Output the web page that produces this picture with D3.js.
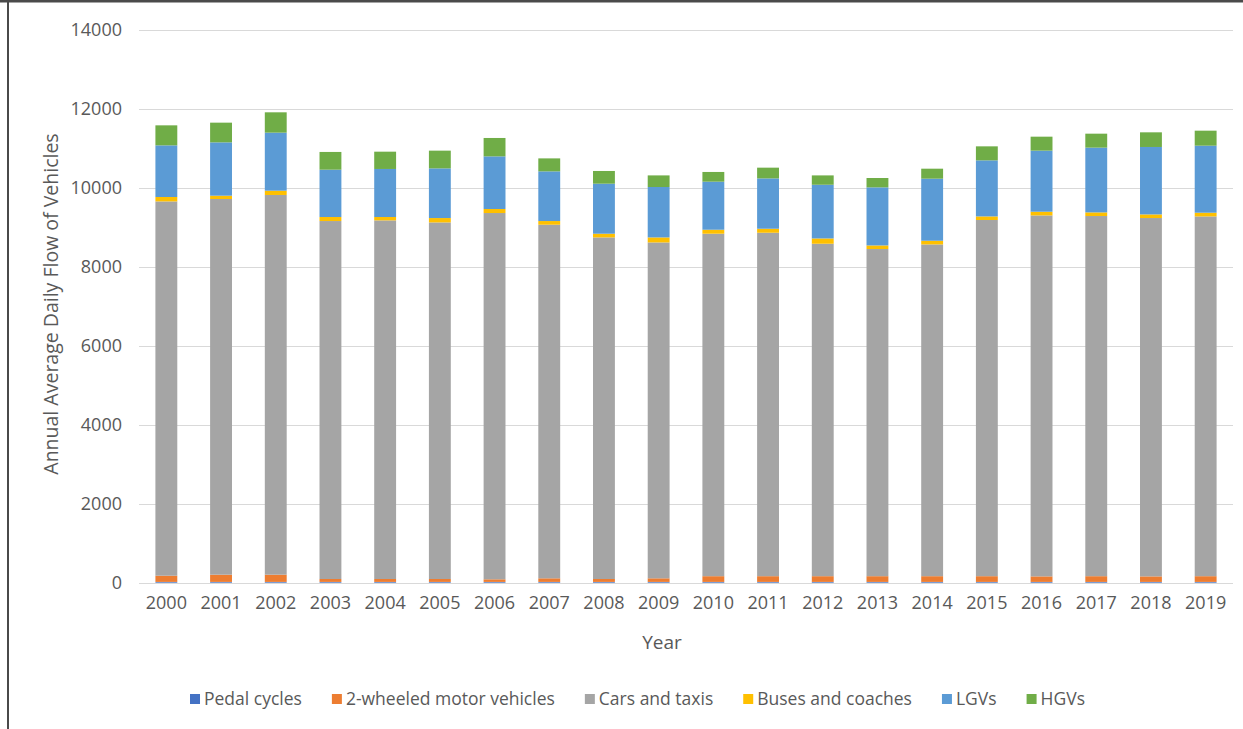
<!DOCTYPE html>
<html>
<head>
<meta charset="utf-8">
<script src="https://cdn.jsdelivr.net/npm/d3@7"></script>
<style>
  html, body { margin: 0; padding: 0; background: #fff; }
  svg { display: block; }
  text { font-family: "Open Sans", "Liberation Sans", sans-serif; fill: #595959; }
</style>
</head>
<body>
<svg id="chart" width="1243" height="729"></svg>
<script>
// Annual average daily flow by vehicle type, 2000-2019
const years = ["2000","2001","2002","2003","2004","2005","2006","2007","2008","2009",
               "2010","2011","2012","2013","2014","2015","2016","2017","2018","2019"];
const seriesNames = ["Pedal cycles","2-wheeled motor vehicles","Cars and taxis","Buses and coaches","LGVs","HGVs"];
const seriesColors = ["#4472C4","#ED7D31","#A5A5A5","#FFC000","#5B9BD5","#70AD47"];

const pedalCycles   = [20,20,20,20,20,20,20,20,20,20,20,20,20,20,20,20,20,20,20,20];
const twoWheeled    = [157,183,183,74,74,74,66,91,74,91,145,145,145,145,145,145,140,145,140,145];
const carsTaxis     = [9481,9516,9618,9067,9083,9032,9278,8957,8652,8508,8675,8700,8421,8287,8403,9022,9143,9123,9077,9113];
const busesCoaches  = [112,84,109,102,86,111,102,93,94,127,101,101,134,91,94,91,94,92,92,94];
const lgvs          = [1308,1351,1470,1199,1217,1258,1333,1258,1267,1277,1217,1275,1360,1471,1572,1420,1547,1640,1708,1698];
const hgvs          = [507,499,515,449,438,449,466,329,322,294,246,272,237,237,253,355,354,354,371,380];

const yTicks = [0,2000,4000,6000,8000,10000,12000,14000];

const seriesValues = [pedalCycles, twoWheeled, carsTaxis, busesCoaches, lgvs, hgvs];
const rows = years.map((y, i) => {
  const r = { year: y };
  seriesNames.forEach((s, k) => { r[s] = seriesValues[k][i]; });
  return r;
});

const svg = d3.select("#chart");
const W = 1243, H = 729;
const plot = { left: 139, right: 1233, top: 30, bottom: 582.7 };

const x = d3.scaleBand().domain(years).range([plot.left, plot.right])
  .paddingInner(0.6).paddingOuter(0.3);
const y = d3.scaleLinear().domain([0, 14000]).range([plot.bottom, plot.top]);

// Frame lines along the top and left edges
svg.append("rect").attr("x", 0).attr("y", 0).attr("width", W).attr("height", 2.5).attr("fill", "#4a4a4a");
svg.append("rect").attr("x", 7).attr("y", 0).attr("width", 2).attr("height", H).attr("fill", "#4a4a4a");

// Horizontal gridlines
svg.append("g").selectAll("line").data(yTicks).join("line")
  .attr("x1", plot.left).attr("x2", plot.right)
  .attr("y1", d => Math.round(y(d)) + 0.5).attr("y2", d => Math.round(y(d)) + 0.5)
  .attr("stroke", "#d9d9d9").attr("stroke-width", 1);

// Y axis tick labels
const yAxis = d3.axisLeft(y).tickValues(yTicks).tickSize(0).tickPadding(0).tickFormat(d3.format("d"));
const gy = svg.append("g").attr("transform", "translate(122,0)").call(yAxis);
gy.select(".domain").remove();
gy.selectAll("text").style("font-size", "18px").attr("fill", "#595959")
  .style("font-family", "'Open Sans', sans-serif");

// Stacked bars
const stack = d3.stack().keys(seriesNames);
const layers = stack(rows);
svg.append("g").selectAll("g").data(layers).join("g")
  .attr("fill", (d, i) => seriesColors[i])
  .selectAll("rect").data(d => d).join("rect")
  .attr("x", d => x(d.data.year))
  .attr("width", x.bandwidth())
  .attr("y", d => y(d[1]))
  .attr("height", d => y(d[0]) - y(d[1]));

// X axis tick labels
const xAxis = d3.axisBottom(x).tickSize(0).tickPadding(0);
const gx = svg.append("g").attr("transform", "translate(0,596)").call(xAxis);
gx.select(".domain").remove();
gx.selectAll("text").style("font-size", "18px").attr("fill", "#595959")
  .style("font-family", "'Open Sans', sans-serif");

// Axis titles
svg.append("text")
  .attr("x", 662).attr("y", 649)
  .attr("text-anchor", "middle")
  .style("font-size", "19px")
  .text("Year");

svg.append("text")
  .attr("transform", "translate(58,304) rotate(-90)")
  .attr("text-anchor", "middle")
  .style("font-size", "19.5px")
  .text("Annual Average Daily Flow of Vehicles");

// Legend
const legend = svg.append("g");
const legendY = 699;
const itemGap = 30;
const swatch = 10;
let cursor = 0;
seriesNames.forEach((name, i) => {
  const g = legend.append("g");
  g.append("rect").attr("x", 0).attr("y", legendY - swatch / 2).attr("width", swatch).attr("height", swatch)
    .attr("fill", seriesColors[i]);
  const t = g.append("text").attr("x", swatch + 4).attr("y", legendY).attr("dy", "0.35em")
    .style("font-size", "17.5px").text(name);
  const w = swatch + 4 + t.node().getComputedTextLength();
  g.attr("transform", `translate(${cursor},0)`);
  cursor += w + itemGap;
});
const totalW = cursor - itemGap;
legend.attr("transform", `translate(${637.5 - totalW / 2},0)`);
</script>
</body>
</html>
